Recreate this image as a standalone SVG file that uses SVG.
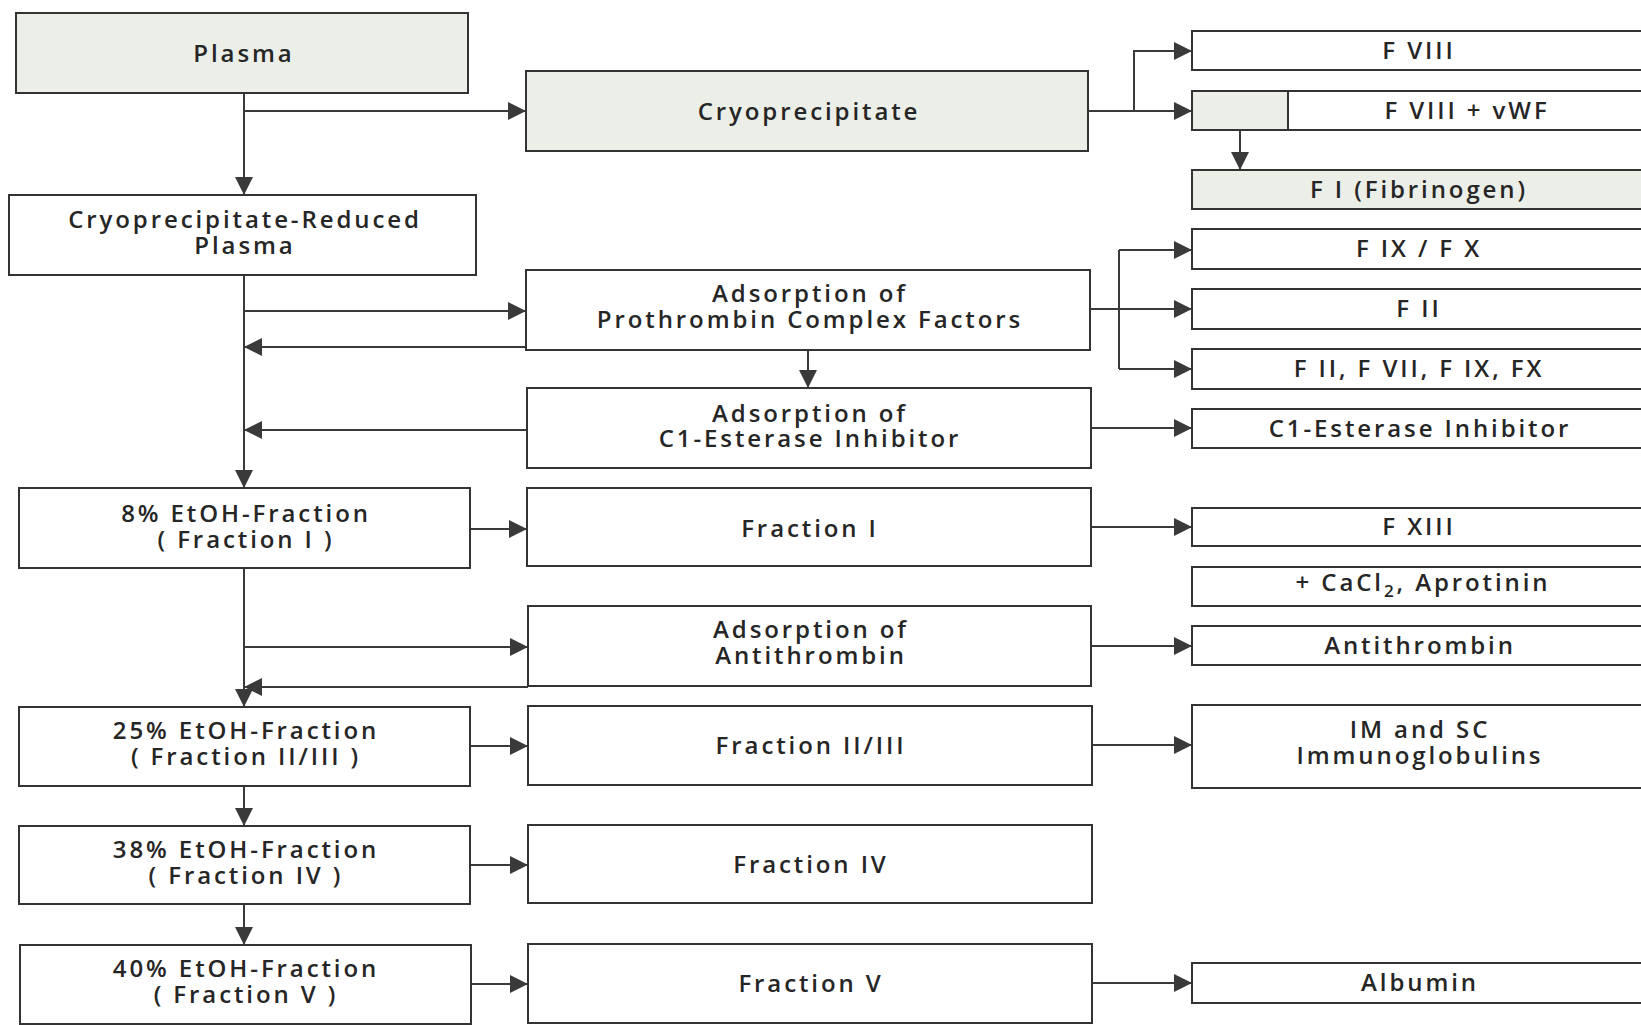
<svg xmlns="http://www.w3.org/2000/svg" width="1641" height="1025" viewBox="0 0 1641 1025">
  <defs>
    <style>
      .box { fill: #ffffff; stroke: #333333; stroke-width: 2; }
      .shade { fill: #eceee8; stroke: #333333; stroke-width: 2; }
      .lbl { font-family: "Open Sans", "Noto Sans", "Liberation Sans", sans-serif; font-size: 24px; font-weight: 600; fill: #262626; text-anchor: middle; letter-spacing: 2.9px; }
      .sub { font-size: 17px; }
      .wire { fill: none; stroke: #3a3a3a; stroke-width: 2; }
      .arr { marker-end: url(#head); }
    </style>
    <marker id="head" markerUnits="userSpaceOnUse" markerWidth="18" markerHeight="18" refX="18" refY="9" orient="auto">
      <path d="M0,0 L18,9 L0,18 z" fill="#3a3a3a"/>
    </marker>
  </defs>

  <rect width="1641" height="1025" fill="#ffffff"/>

  <!-- connectors -->
  <g id="connectors">
    <!-- main column -->
    <path class="wire arr" d="M244,93 V195"/>
    <path class="wire arr" d="M244,111 H526"/>
    <path class="wire arr" d="M244,275 V488"/>
    <path class="wire arr" d="M244,311 H526"/>
    <path class="wire arr" d="M526,347 H244"/>
    <path class="wire arr" d="M527,430 H244"/>
    <path class="wire arr" d="M244,568 V707"/>
    <path class="wire arr" d="M244,647 H528"/>
    <path class="wire arr" d="M528,687 H244"/>
    <path class="wire arr" d="M244,786 V826"/>
    <path class="wire arr" d="M244,904 V945"/>
    <!-- left to middle -->
    <path class="wire arr" d="M470,529 H527"/>
    <path class="wire arr" d="M470,746 H528"/>
    <path class="wire arr" d="M470,865 H528"/>
    <path class="wire arr" d="M471,984 H528"/>
    <!-- middle column -->
    <path class="wire arr" d="M808,350 V388"/>
    <!-- cryoprecipitate split -->
    <path class="wire arr" d="M1088,111 H1192"/>
    <path class="wire arr" d="M1134,111 V51 H1192"/>
    <path class="wire arr" d="M1240,130 V170"/>
    <!-- prothrombin complex split -->
    <path class="wire arr" d="M1090,309 H1192"/>
    <path class="wire" d="M1119,250 V369"/>
    <path class="wire arr" d="M1119,250 H1192"/>
    <path class="wire arr" d="M1119,369 H1192"/>
    <!-- middle to products -->
    <path class="wire arr" d="M1091,428 H1192"/>
    <path class="wire arr" d="M1091,527 H1192"/>
    <path class="wire arr" d="M1091,646 H1192"/>
    <path class="wire arr" d="M1092,745 H1192"/>
    <path class="wire arr" d="M1092,983 H1192"/>
  </g>

  <!-- left column: plasma and ethanol fractions -->
  <g id="plasma">
    <rect class="shade" x="16" y="13" width="452" height="80"/>
    <text class="lbl" x="244" y="62">Plasma</text>
  </g>
  <g id="cryo-reduced-plasma">
    <rect class="box" x="9" y="195" width="467" height="80"/>
    <text class="lbl" x="245" y="228">Cryoprecipitate-Reduced</text>
    <text class="lbl" x="245" y="254">Plasma</text>
  </g>
  <g id="etoh-8">
    <rect class="box" x="19" y="488" width="451" height="80"/>
    <text class="lbl" x="246" y="522">8% EtOH-Fraction</text>
    <text class="lbl" x="246" y="548">( Fraction I )</text>
  </g>
  <g id="etoh-25">
    <rect class="box" x="19" y="707" width="451" height="79"/>
    <text class="lbl" x="246" y="739">25% EtOH-Fraction</text>
    <text class="lbl" x="246" y="765">( Fraction II/III )</text>
  </g>
  <g id="etoh-38">
    <rect class="box" x="19" y="826" width="451" height="78"/>
    <text class="lbl" x="246" y="858">38% EtOH-Fraction</text>
    <text class="lbl" x="246" y="884">( Fraction IV )</text>
  </g>
  <g id="etoh-40">
    <rect class="box" x="20" y="945" width="451" height="79"/>
    <text class="lbl" x="246" y="977">40% EtOH-Fraction</text>
    <text class="lbl" x="246" y="1003">( Fraction V )</text>
  </g>

  <!-- middle column: processing steps -->
  <g id="cryoprecipitate">
    <rect class="shade" x="526" y="71" width="562" height="80"/>
    <text class="lbl" x="809" y="120">Cryoprecipitate</text>
  </g>
  <g id="adsorption-pcf">
    <rect class="box" x="526" y="270" width="564" height="80"/>
    <text class="lbl" x="810" y="302">Adsorption of</text>
    <text class="lbl" x="810" y="328">Prothrombin Complex Factors</text>
  </g>
  <g id="adsorption-c1">
    <rect class="box" x="527" y="388" width="564" height="80"/>
    <text class="lbl" x="810" y="422">Adsorption of</text>
    <text class="lbl" x="810" y="447">C1-Esterase Inhibitor</text>
  </g>
  <g id="fraction-1">
    <rect class="box" x="527" y="488" width="564" height="78"/>
    <text class="lbl" x="810" y="537">Fraction I</text>
  </g>
  <g id="adsorption-at">
    <rect class="box" x="528" y="606" width="563" height="80"/>
    <text class="lbl" x="811" y="638">Adsorption of</text>
    <text class="lbl" x="811" y="664">Antithrombin</text>
  </g>
  <g id="fraction-2-3">
    <rect class="box" x="528" y="706" width="564" height="79"/>
    <text class="lbl" x="811" y="754">Fraction II/III</text>
  </g>
  <g id="fraction-4">
    <rect class="box" x="528" y="825" width="564" height="78"/>
    <text class="lbl" x="811" y="873">Fraction IV</text>
  </g>
  <g id="fraction-5">
    <rect class="box" x="528" y="944" width="564" height="79"/>
    <text class="lbl" x="811" y="992">Fraction V</text>
  </g>

  <!-- right column: products -->
  <g id="f8">
    <rect class="box" x="1192" y="31" width="453" height="39"/>
    <text class="lbl" x="1419" y="59">F VIII</text>
  </g>
  <g id="f8-vwf">
    <rect class="box" x="1192" y="91" width="453" height="39"/>
    <rect class="shade" x="1192" y="91" width="96" height="39"/>
    <text class="lbl" x="1467" y="119">F VIII + vWF</text>
  </g>
  <g id="fibrinogen">
    <rect class="shade" x="1192" y="170" width="453" height="39"/>
    <text class="lbl" x="1419" y="198">F I (Fibrinogen)</text>
  </g>
  <g id="f9-f10">
    <rect class="box" x="1192" y="229" width="453" height="40"/>
    <text class="lbl" x="1419" y="257">F IX / F X</text>
  </g>
  <g id="f2">
    <rect class="box" x="1192" y="289" width="453" height="40"/>
    <text class="lbl" x="1419" y="317">F II</text>
  </g>
  <g id="pcc">
    <rect class="box" x="1192" y="349" width="453" height="40"/>
    <text class="lbl" x="1419" y="377">F II, F VII,  F IX, FX</text>
  </g>
  <g id="c1-inhibitor">
    <rect class="box" x="1192" y="409" width="453" height="39"/>
    <text class="lbl" x="1420" y="437">C1-Esterase Inhibitor</text>
  </g>
  <g id="f13">
    <rect class="box" x="1192" y="508" width="453" height="38"/>
    <text class="lbl" x="1419" y="535">F XIII</text>
  </g>
  <g id="cacl2-aprotinin">
    <rect class="box" x="1192" y="567" width="453" height="39"/>
    <text class="lbl" x="1423" y="591">+ CaCl<tspan class="sub" dy="6">2</tspan><tspan dy="-6">, Aprotinin</tspan></text>
  </g>
  <g id="antithrombin">
    <rect class="box" x="1192" y="626" width="453" height="39"/>
    <text class="lbl" x="1420" y="654">Antithrombin</text>
  </g>
  <g id="immunoglobulins">
    <rect class="box" x="1192" y="705" width="453" height="83"/>
    <text class="lbl" x="1420" y="738">IM and SC</text>
    <text class="lbl" x="1420" y="764">Immunoglobulins</text>
  </g>
  <g id="albumin">
    <rect class="box" x="1192" y="963" width="453" height="40"/>
    <text class="lbl" x="1420" y="991">Albumin</text>
  </g>
</svg>
